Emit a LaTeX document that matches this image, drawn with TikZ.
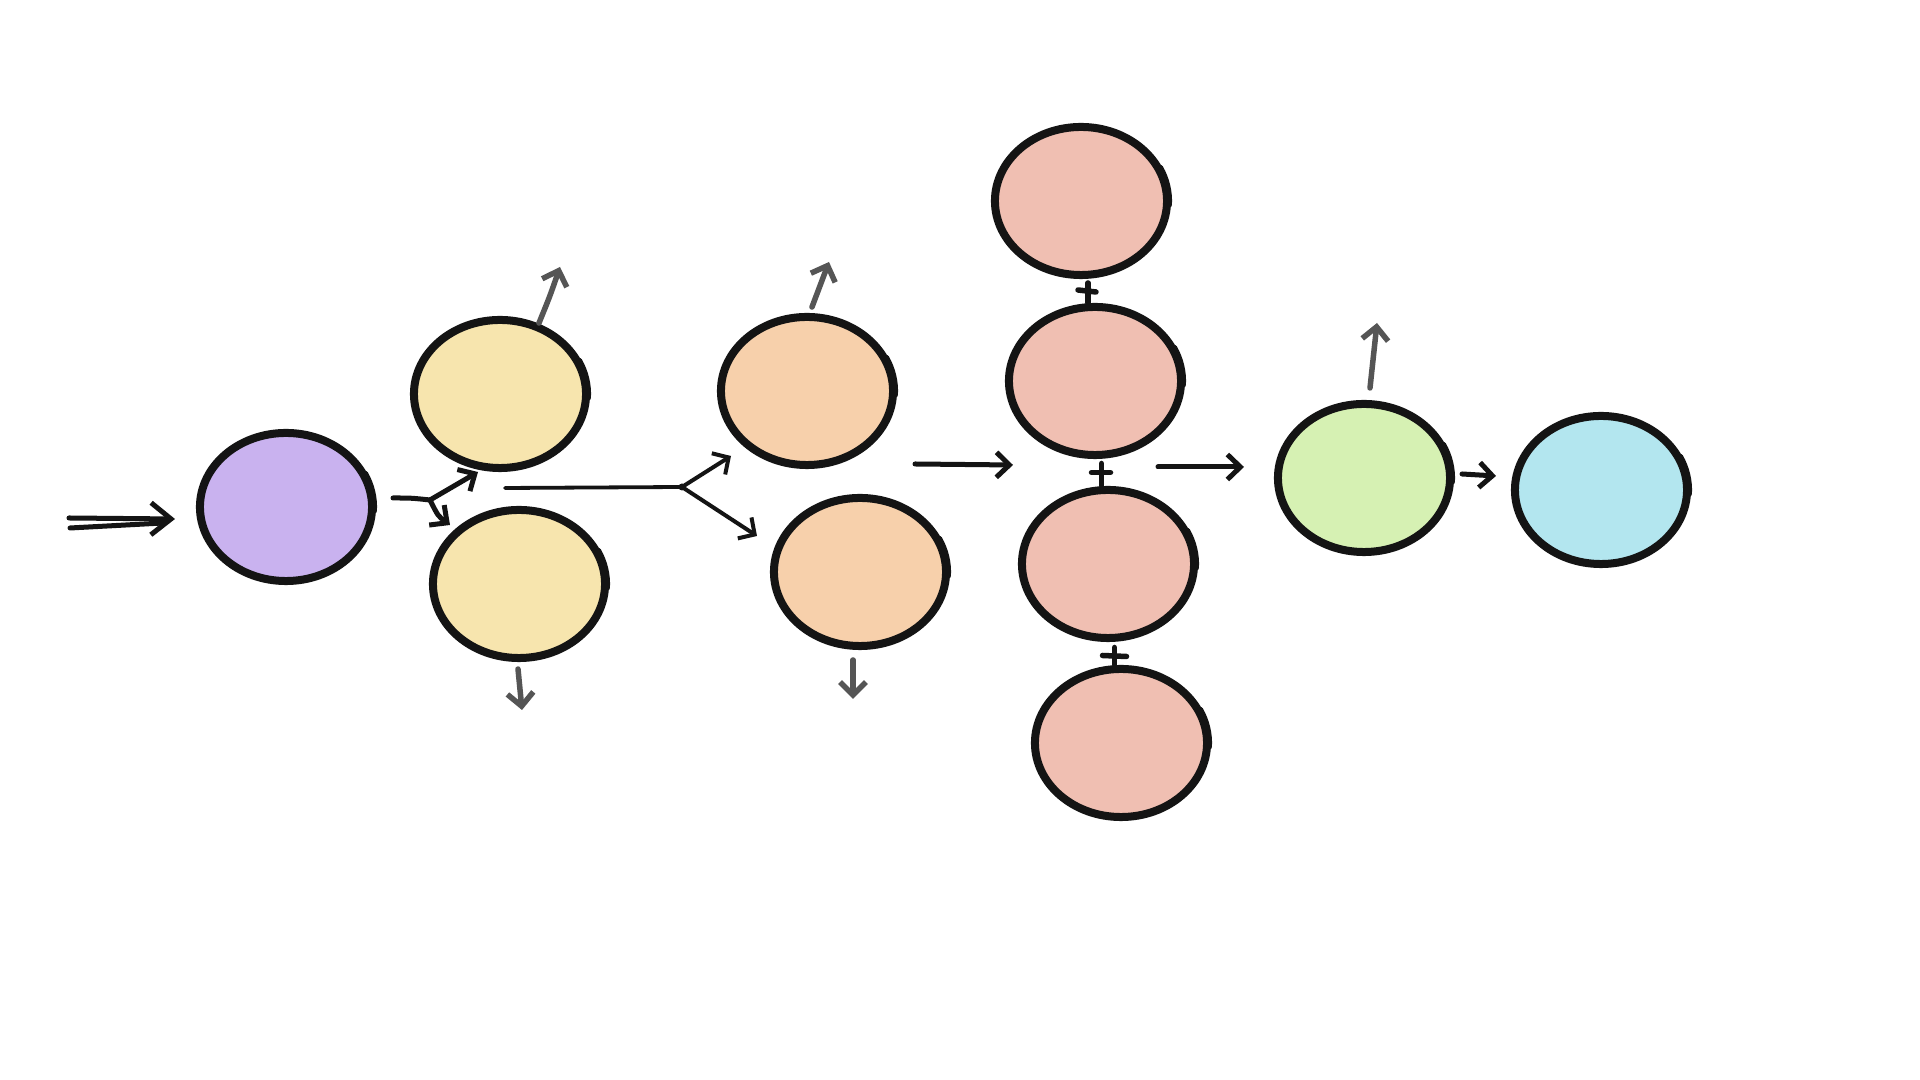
\documentclass[tikz,border=0pt]{standalone}
\usetikzlibrary{shapes.geometric,arrows.meta,calc}
\definecolor{ink}{HTML}{141414}
\definecolor{gink}{HTML}{555555}
\definecolor{cpurple}{HTML}{C9B2EF}
\definecolor{cyellow}{HTML}{F7E5AE}
\definecolor{corange}{HTML}{F7D0AB}
\definecolor{cpink}{HTML}{F0BFB2}
\definecolor{cgreen}{HTML}{D6F1B3}
\definecolor{ccyan}{HTML}{B3E6EF}
\newcommand\blobtick[1]{\draw[tickarc] (#1.center) ++(-3:0.885cm and 0.765cm) arc[start angle=-3,end angle=26,x radius=0.885cm,y radius=0.765cm];}
\begin{document}
\begin{tikzpicture}[x=0.01cm,y=-0.01cm,
  blob/.style={ellipse,draw=ink,line width=0.08cm,minimum width=1.72cm,minimum height=1.48cm,inner sep=0pt},
  tickarc/.style={draw=ink,line width=0.05cm,line cap=round},
  blk/.style={draw=ink,line width=0.05cm,line cap=round,line join=round,-{Straight Barb[length=0.13cm,width=0.25cm]}},
  blkthin/.style={draw=ink,line width=0.04cm,line cap=round,line join=round,-{Straight Barb[length=0.12cm,width=0.25cm]}},
  plain/.style={draw=ink,line width=0.05cm,line cap=round},
  plainthin/.style={draw=ink,line width=0.038cm,line cap=round},
  dblarr/.style={draw=ink,line width=0.05cm,line cap=round,line join=round,-{Straight Barb[length=0.2cm,width=0.32cm]}},
  garr/.style={draw=gink,line width=0.055cm,line cap=round,line join=round,-{Straight Barb[length=0.13cm,width=0.26cm]}},
  plusst/.style={draw=ink,line width=0.055cm,line cap=round}]
\fill[white] (0,0) rectangle (1920,1080);
\useasboundingbox (0,0) rectangle (1920,1080);
% nodes
\node[blob,fill=cpurple] (pu) at (286,507) {};
\node[blob,fill=cyellow] (y1) at (500,394) {};
\node[blob,fill=cyellow] (y2) at (519,584) {};
\node[blob,fill=corange] (o1) at (807,391) {};
\node[blob,fill=corange] (o2) at (860,572) {};
\node[blob,fill=cpink] (r1) at (1081,201) {};
\node[blob,fill=cpink] (r2) at (1095,381) {};
\node[blob,fill=cpink] (r3) at (1108,564) {};
\node[blob,fill=cpink] (r4) at (1121,743) {};
\node[blob,fill=cgreen] (gr) at (1364,478) {};
\node[blob,fill=ccyan] (cy) at (1601,490) {};
\foreach \n in {pu,y1,y2,o1,o2,r1,r2,r3,r4,gr,cy}{\blobtick{\n}}
% incoming double arrow
\draw[dblarr] ($(pu)+(-217,11)$) -- ($(pu)+(-111,12)$);
\draw[plain] ($(pu)+(-216,21)$) -- ($(pu)+(-123,16)$);
% split to the yellows
\coordinate (j1) at ($(pu)+(144,-7)$);
\draw[plain] ($(pu)+(107,-9)$) .. controls ($(pu)+(125,-9)$) .. (j1);
\draw[blk] (j1) -- ($(y1)+(-22,78)$);
\draw[blk] (j1) .. controls ($(j1)+(8,16)$) .. ($(y2)+(-69,-59)$);
% long line to the oranges
\coordinate (j2) at ($(o1)+(-125,96)$);
\draw[plainthin] ($(y1)+(5,94)$) -- (j2);
\fill[ink] (j2) circle[radius=0.035cm];
\draw[blkthin] (j2) -- ($(o1)+(-76,65)$);
\draw[blkthin] (j2) -- ($(o2)+(-103,-36)$);
% main flow
\draw[blk] ($(o1)+(108,73)$) -- ($(r2)+(-82,84)$);
\draw[blk] ($(r2)+(63,86)$) -- ($(gr)+(-120,-11)$);
\draw[blk] ($(gr)+(98,-4)$) -- ($(cy)+(-105,-14)$);
% grey side arrows
\draw[garr] ($(y1)+(39,-71)$) .. controls ($(y1)+(50,-98)$) .. ($(y1)+(60,-127)$);
\draw[garr] ($(y2)+(-1,85)$) -- ($(y2)+(3,126)$);
\draw[garr] ($(o1)+(5,-84)$) -- ($(o1)+(22,-129)$);
\draw[garr] ($(o2)+(-7,88)$) -- ($(o2)+(-7,127)$);
\draw[garr] ($(gr)+(6,-90)$) -- ($(gr)+(13,-155)$);
% plus joints between the pink nodes
\coordinate (p1) at ($(r1.south)!0.5!(r2.north)$);
\coordinate (p2) at ($(r2.south)!0.5!(r3.north)$);
\coordinate (p3) at ($(r3.south)!0.5!(r4.north)$);
\draw[plusst] ($(p1)+(-10,-1)$) -- ($(p1)+(8,1)$);
\draw[plusst] ($(p1)+(0,-8)$) -- (p1 |- r2.north);
\draw[plusst] ($(p2)+(-10,0)$) -- ($(p2)+(9,0)$);
\draw[plusst] ($(p2)+(0,-9)$) -- (p2 |- r3.north);
\draw[plusst] ($(p3)+(-12,2)$) -- ($(p3)+(12,3)$);
\draw[plusst] ($(p3)+(0,-6)$) -- (p3 |- r4.north);
\end{tikzpicture}
\end{document}
